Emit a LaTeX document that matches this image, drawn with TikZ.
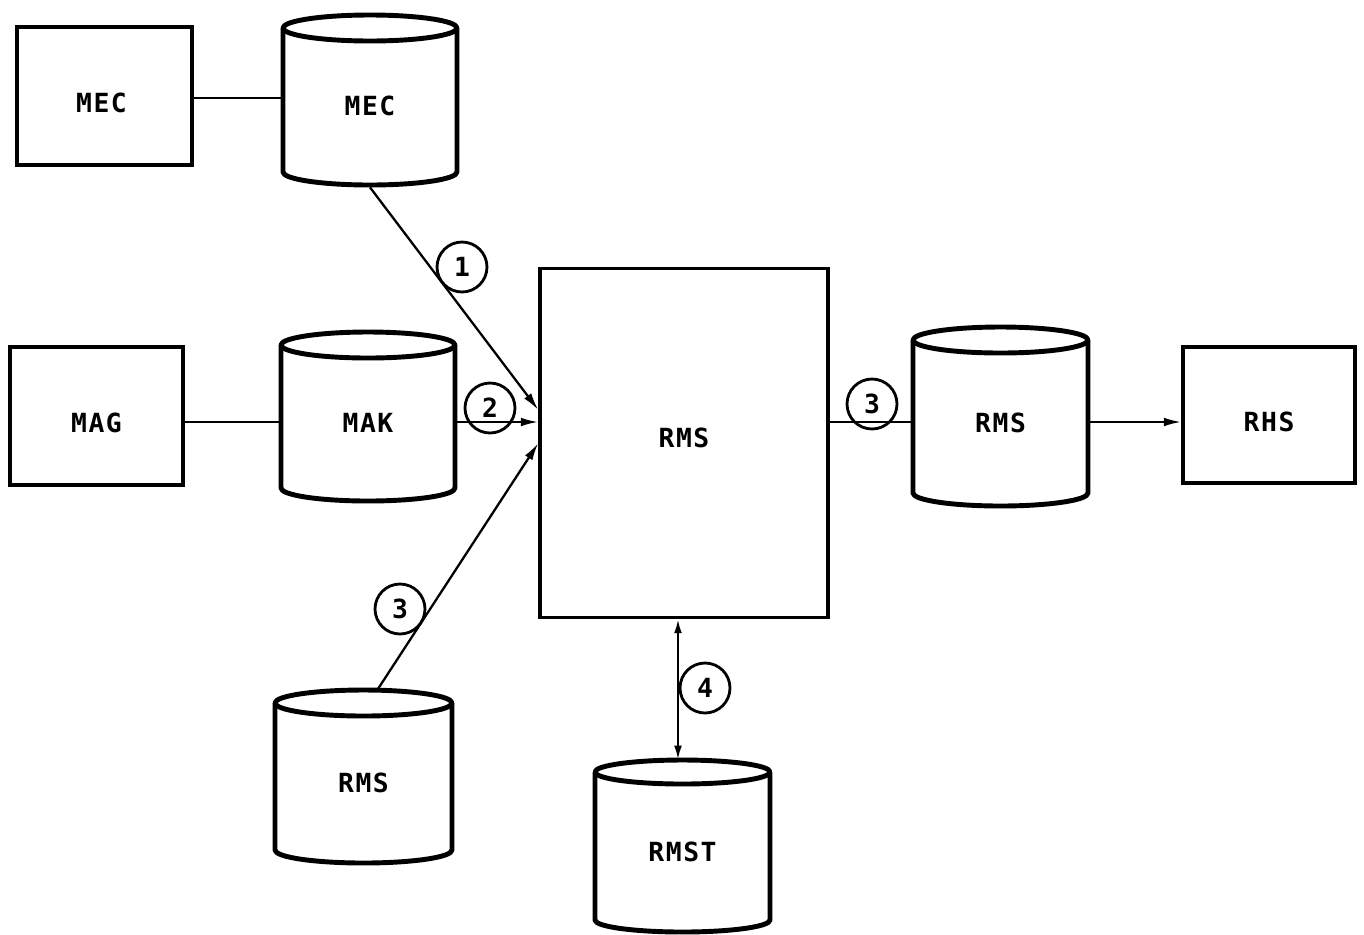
\documentclass[tikz,border=0pt]{standalone}
\usepackage{fontspec}
\newfontfamily\lblfont[LetterSpace=6]{DejaVu Sans Mono Bold}
\usetikzlibrary{arrows.meta,calc}
\tikzset{
  lbl/.style={font=\lblfont\fontsize{15}{17}\selectfont, inner sep=0},
  box/.style={draw, line width=1.9pt, inner sep=0},
  cylline/.style={line width=2.8pt, line join=round},
  conn/.style={line width=1.3pt},
  arr/.style={conn, -{Latex[length=10pt,width=5pt]}},
  darr/.style={conn, {Latex[length=8pt,width=4.5pt]}-{Latex[length=8pt,width=4.5pt]}},
  num/.style={circle, draw, line width=1.6pt, minimum size=1.0cm, inner sep=0, lbl}
}
% name, xl, xr, yt, yb, ry, text
\newcommand\dbcyl[7]{%
  \pgfmathsetmacro\cylcx{(#2+#3)/2}%
  \pgfmathsetmacro\cylrx{(#3-#2)/2*0.02}%
  \pgfmathsetmacro\cylry{#6*0.02}%
  \pgfmathsetmacro\cylcy{(#4+#5)/2}%
  \pgfmathsetmacro\cylh{(#5-#4+2*#6)*0.02}%
  \pgfmathsetmacro\cylw{(#3-#2)*0.02}%
  \draw[cylline] (#2,#4) -- (#2,#5) arc[start angle=180,end angle=360,x radius=\cylrx cm,y radius=\cylry cm] -- (#3,#4);
  \draw[cylline] (\cylcx,#4) ellipse[x radius=\cylrx cm, y radius=\cylry cm];
  \node[minimum width=\cylw cm, minimum height=\cylh cm, inner sep=0] (#1) at (\cylcx,\cylcy) {};
  \node[lbl] (#1-t) at (\cylcx,\cylcy+6) {#7};
}
\begin{document}
\begin{tikzpicture}[x=0.02cm,y=-0.02cm]
\path[use as bounding box] (0,0) rectangle (1364,934);
% boxes
\node[box, minimum width=3.5cm, minimum height=2.76cm] (mecb) at (104.5,96) {};
\node[lbl] (mecb-t) at ($(mecb.center)+(-3,7)$) {MEC};
\node[box, minimum width=3.46cm, minimum height=2.76cm] (mag) at (96.5,416) {};
\node[lbl] (mag-t) at ($(mag.center)+(0,7)$) {MAG};
\node[box, minimum width=5.76cm, minimum height=6.98cm] (rms) at (684,443) {};
\node[lbl] (rms-t) at ($(rms.center)+(0,-5)$) {RMS};
\node[box, minimum width=3.44cm, minimum height=2.72cm] (rhs) at (1269,415) {};
\node[lbl] (rhs-t) at ($(rhs.center)+(0,7)$) {RHS};
% cylinders
\dbcyl{mecc}{283}{457}{28}{172}{13}{MEC}
\dbcyl{mak}{281}{455}{345}{488}{13}{MAK}
\dbcyl{rmsc}{913}{1088}{340}{493}{13}{RMS}
\dbcyl{rmsb}{275}{452}{703}{850}{13}{RMS}
\dbcyl{rmst}{595}{770}{772}{920}{12}{RMST}
% connectors
\draw[conn] (mecb.east |- 0,98) -- (mecc.west |- 0,98);
\draw[conn] (mag.east |- 0,422) -- (mak.west |- 0,422);
\draw[arr] ($(mecc.south)+(0,2)$) -- ($(rms.west)+(0,-33)$);
\draw[arr] (mak.east |- 0,422) -- (rms.west |- 0,422);
\draw[arr] ($(rmsb.north)+(14,0)$) -- (rms.west);
\draw[conn] (rms.east |- 0,422) -- (rmsc.west |- 0,422);
\draw[arr] (rmsc.east |- 0,422) -- (rhs.west |- 0,422);
\draw[darr] ($(rms.south)+(-6,0)$) -- ($(rmst.north)+(-4.5,0)$);
% numbered circles
\node[num] (n1) at (462,267) {1};
\node[num] (n2) at (490,408) {2};
\node[num] (n3a) at (400,609) {3};
\node[num] (n3b) at (872,404) {3};
\node[num] (n4) at (705,688) {4};
\end{tikzpicture}
\end{document}
